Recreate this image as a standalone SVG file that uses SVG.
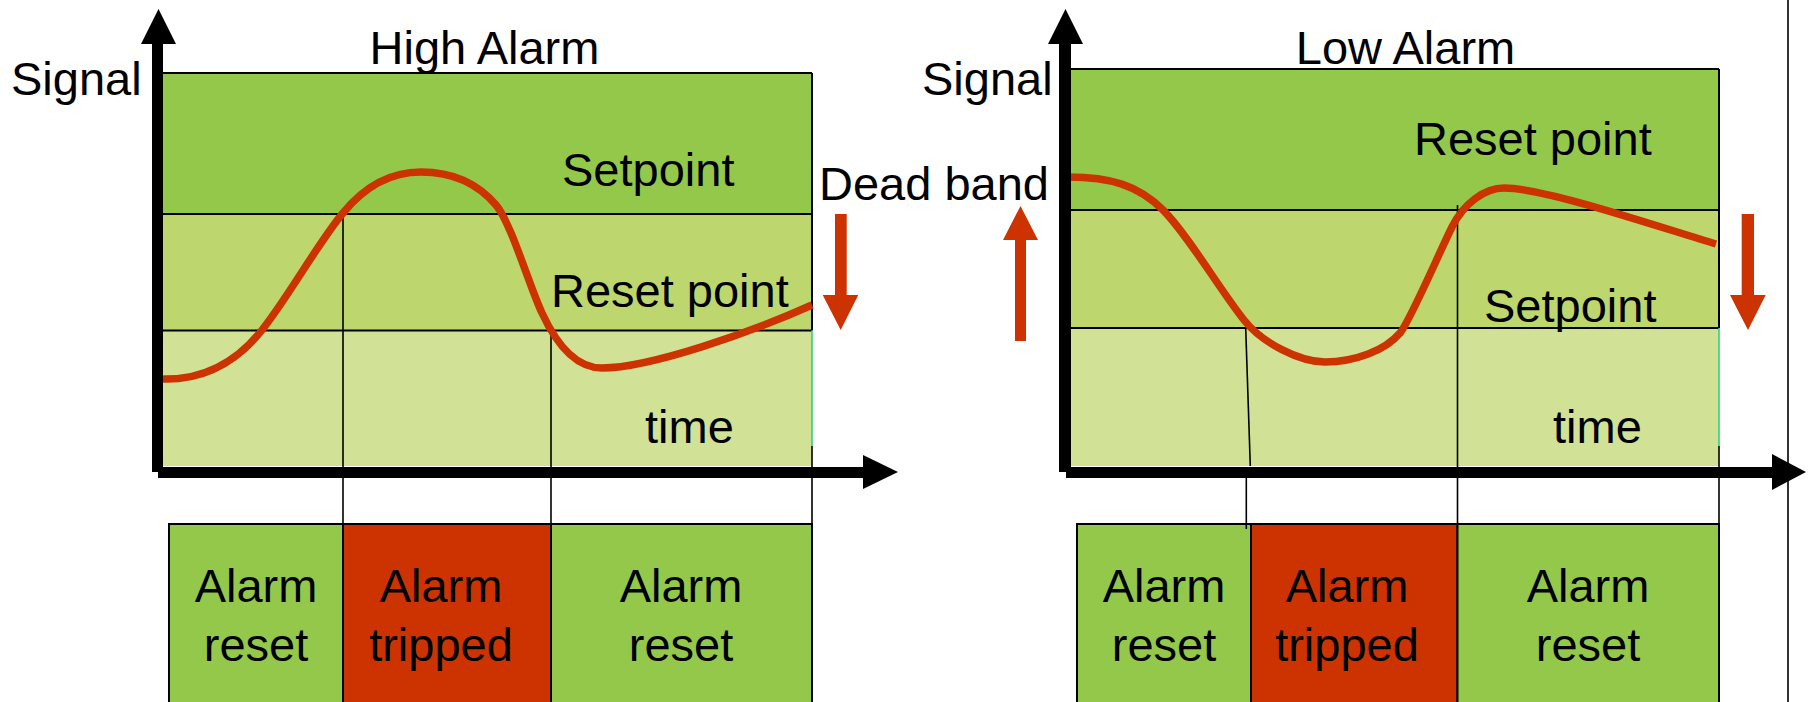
<svg xmlns="http://www.w3.org/2000/svg" width="1808" height="702" viewBox="0 0 1808 702">
  <style>
    text { font-family: "Liberation Sans", Arial, sans-serif; font-size: 47px; fill: #000; }
    .mid { text-anchor: middle; }
    .bandTop { fill: #94C84A; }
    .bandMid { fill: #BED66E; }
    .bandLow { fill: #D1E196; }
    .edge { stroke: #000; stroke-width: 2; fill: none; }
    .thin { stroke: #000; stroke-width: 1.6; fill: none; }
    .boxOk { fill: #94C84A; stroke: #000; stroke-width: 2; }
    .boxTrip { fill: #CC3300; stroke: #000; stroke-width: 2; }
    .signal { stroke: #CC3300; stroke-width: 7.5; fill: none; stroke-linecap: butt; }
    .red { fill: #CC3300; }
    .axis { fill: #000; }
  </style>

  <!-- ===== High alarm chart ===== -->
  <g id="high-chart">
    <rect class="bandTop" x="163" y="73" width="649" height="141"/>
    <rect class="bandMid" x="163" y="214" width="649" height="116.5"/>
    <rect class="bandLow" x="163" y="330.5" width="649" height="135.5"/>
    <line class="edge" x1="163" y1="73" x2="812" y2="73"/>
    <line class="edge" x1="163" y1="214" x2="812" y2="214"/>
    <line class="edge" x1="163" y1="330.5" x2="812" y2="330.5"/>
    <line class="edge" x1="812" y1="73" x2="812" y2="330.5"/>
    <line x1="812" y1="330.5" x2="812" y2="446" stroke="#2ED47A" stroke-width="1.6"/>
  </g>

  <!-- ===== Low alarm chart ===== -->
  <g id="low-chart">
    <rect class="bandTop" x="1071" y="69" width="648" height="141"/>
    <rect class="bandMid" x="1071" y="210" width="648" height="118"/>
    <rect class="bandLow" x="1071" y="328" width="648" height="138"/>
    <line class="edge" x1="1071" y1="69" x2="1719" y2="69"/>
    <line class="edge" x1="1071" y1="210" x2="1719" y2="210"/>
    <line class="edge" x1="1071" y1="328" x2="1719" y2="328"/>
    <line class="edge" x1="1719" y1="69" x2="1719" y2="328"/>
    <line x1="1719" y1="328" x2="1719" y2="446" stroke="#2ED47A" stroke-width="1.6"/>
  </g>

  <!-- ===== State boxes ===== -->
  <g id="high-reset-1">
    <rect class="boxOk" x="169" y="524" width="174" height="190"/>
    <text class="mid" x="256" y="602">Alarm</text>
    <text class="mid" x="256" y="661">reset</text>
  </g>
  <g id="high-tripped">
    <rect class="boxTrip" x="343" y="524" width="208" height="190"/>
    <text class="mid" x="441" y="602">Alarm</text>
    <text class="mid" x="441" y="661">tripped</text>
  </g>
  <g id="high-reset-2">
    <rect class="boxOk" x="551" y="524" width="261" height="190"/>
    <text class="mid" x="681" y="602">Alarm</text>
    <text class="mid" x="681" y="661">reset</text>
  </g>
  <g id="low-reset-1">
    <rect class="boxOk" x="1077" y="524" width="174" height="190"/>
    <text class="mid" x="1164" y="602">Alarm</text>
    <text class="mid" x="1164" y="661">reset</text>
  </g>
  <g id="low-tripped">
    <rect class="boxTrip" x="1251" y="524" width="206.5" height="190"/>
    <text class="mid" x="1347" y="602">Alarm</text>
    <text class="mid" x="1347" y="661">tripped</text>
  </g>
  <g id="low-reset-2">
    <rect class="boxOk" x="1457.5" y="524" width="261.5" height="190"/>
    <text class="mid" x="1588" y="602">Alarm</text>
    <text class="mid" x="1588" y="661">reset</text>
  </g>

  <!-- ===== Connectors: time markers, signal traces, axes ===== -->
  <g id="connectors">
    <!-- time markers dropping from the chart to the state boxes -->
    <line class="thin" x1="343" y1="214" x2="343" y2="524"/>
    <line class="thin" x1="551" y1="330.5" x2="551" y2="524"/>
    <line class="thin" x1="812" y1="446" x2="812" y2="524"/>
    <polyline class="thin" points="1245.7,328 1250.3,466"/>
    <polyline class="thin" points="1246.3,478 1246.3,529"/>
    <line class="thin" x1="1457.5" y1="205" x2="1457.5" y2="524"/>
    <line class="thin" x1="1719" y1="446" x2="1719" y2="524"/>
    <line x1="1788" y1="0" x2="1788" y2="702" stroke="#333" stroke-width="2"/>

    <!-- signal traces -->
    <path class="signal" d="M163,379 C205,380 237,361.5 262,330 C289,296 318,243 343,213 C365,186 391,172 421,172 C451,172 476,181.6 496,205 C511,222.5 530,288 542,313 C560,352 580,368 602,368 C650,368 752,332 812,305"/>
    <path class="signal" d="M1068,177 C1110,177 1138,185 1163,210 C1188,235 1219,288.5 1244,320 C1262,343 1300,362 1325,362 C1355,362 1385,350.6 1400,333 C1410,321 1440,251 1452,227 C1464,203 1485,188 1504,188 C1545,188 1656,226 1716,244"/>

    <!-- axes -->
    <rect class="axis" x="152" y="40" width="11" height="432"/>
    <polygon class="axis" points="141,44 158.5,9 176,44"/>
    <rect class="axis" x="158" y="467" width="707" height="11"/>
    <polygon class="axis" points="863,455 898,472 863,489"/>

    <rect class="axis" x="1059" y="40" width="12" height="432"/>
    <polygon class="axis" points="1048,44 1065.5,9 1083,44"/>
    <rect class="axis" x="1066" y="467" width="708" height="11"/>
    <polygon class="axis" points="1772,454 1806,472 1772,490"/>

    <!-- dead band direction arrows -->
    <polygon class="red" points="835,214 846.7,214 846.7,295 858.3,295 840.7,330 822.7,295 835,295"/>
    <polygon class="red" points="1741.7,214 1754,214 1754,295 1765.7,295 1748,330 1730,295 1741.7,295"/>
    <polygon class="red" points="1015,341 1026,341 1026,240 1038,240 1020.5,206 1003,240 1015,240"/>
  </g>

  <!-- ===== Labels ===== -->
  <g id="labels">
    <text class="mid" x="484.5" y="64">High Alarm</text>
    <text x="11" y="95">Signal</text>
    <text x="562" y="186">Setpoint</text>
    <text x="551" y="307">Reset point</text>
    <text x="645" y="443">time</text>
    <text x="819" y="200">Dead band</text>

    <text class="mid" x="1405.5" y="64">Low Alarm</text>
    <text x="922" y="95">Signal</text>
    <text x="1414" y="155">Reset point</text>
    <text x="1484" y="322">Setpoint</text>
    <text x="1553" y="443">time</text>
  </g>
</svg>
